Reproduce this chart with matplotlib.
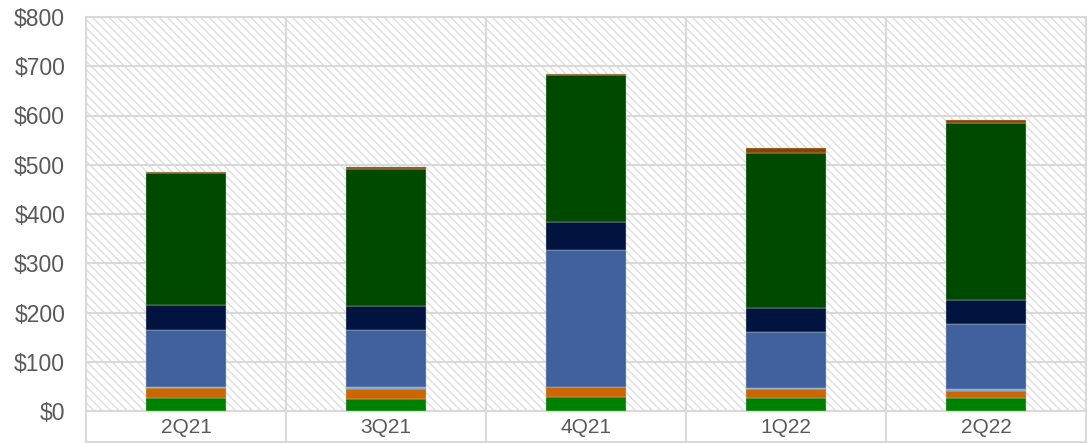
import matplotlib
matplotlib.use("Agg")
import matplotlib.pyplot as plt
from matplotlib.patches import Rectangle
from matplotlib.lines import Line2D
import numpy as np

quarters = ["2Q21", "3Q21", "4Q21", "1Q22", "2Q22"]

# stacked segments, bottom to top ($)
seg_green = [26, 24, 29, 26, 27]
seg_orange = [21, 21, 19, 18, 14]
seg_lightblue = [2, 4, 1, 3, 4]
seg_blue = [116, 115, 278, 113, 131]
seg_navy = [51, 50, 57, 50, 50]
seg_darkgreen = [268, 278, 298, 313, 359]
seg_brown = [2, 4, 3, 10, 6]

segments = [seg_green, seg_orange, seg_lightblue, seg_blue, seg_navy,
            seg_darkgreen, seg_brown]
colors = ["#008000", "#cc6600", "#7fa6d4", "#41609e", "#00143f",
          "#004a00", "#8b4500"]

yticks = [0, 100, 200, 300, 400, 500, 600, 700, 800]
ytick_labels = [f"${v}" for v in yticks]

plt.rcParams["font.family"] = ["Liberation Sans", "DejaVu Sans"]
plt.rcParams["hatch.linewidth"] = 1.0
GRID = "#d9d9d9"
TEXT = "#595959"

fig = plt.figure(figsize=(10.88, 4.43), dpi=100)
ax = fig.add_axes([86 / 1088, 32 / 443, 1000 / 1088, 394 / 443])

# hatched plot background
ax.add_patch(Rectangle((0, 0), 1, 1, transform=ax.transAxes, facecolor="white",
                       edgecolor="#dedede", hatch="\\\\\\\\", lw=0, zorder=0))

x = np.arange(len(quarters))
bottom = np.zeros(len(quarters))
for vals, c in zip(segments, colors):
    ax.bar(x, vals, bottom=bottom, width=0.4, color=c, edgecolor="#b8c8b8",
           linewidth=0.3, zorder=3)
    bottom += np.array(vals)

ax.set_xlim(-0.5, len(quarters) - 0.5)
ax.set_ylim(0, 800)
ax.set_yticks(yticks)
ax.set_yticklabels(ytick_labels)
ax.set_xticks(x)
ax.set_xticklabels(quarters)
ax.tick_params(axis="y", length=0, pad=15, labelsize=16.5, labelcolor=TEXT)
ax.tick_params(axis="x", length=0, pad=5, labelsize=15, labelcolor=TEXT)

ax.grid(axis="y", color=GRID, lw=1.5, zorder=1)
for b in np.arange(-0.5, len(quarters), 1.0):
    ax.axvline(b, color=GRID, lw=1.5, zorder=1)
for s in ax.spines.values():
    s.set_color(GRID)
    s.set_linewidth(1.5)

# category label box below the axis
for i in range(len(quarters) + 1):
    xf = (86 + 200 * i) / 1088
    fig.add_artist(Line2D([xf, xf], [1 / 443, 32 / 443], color=GRID, lw=1.5))
fig.add_artist(Line2D([86 / 1088, 1086 / 1088], [1 / 443, 1 / 443], color=GRID, lw=1.5))

fig.savefig("out.png", dpi=100)
